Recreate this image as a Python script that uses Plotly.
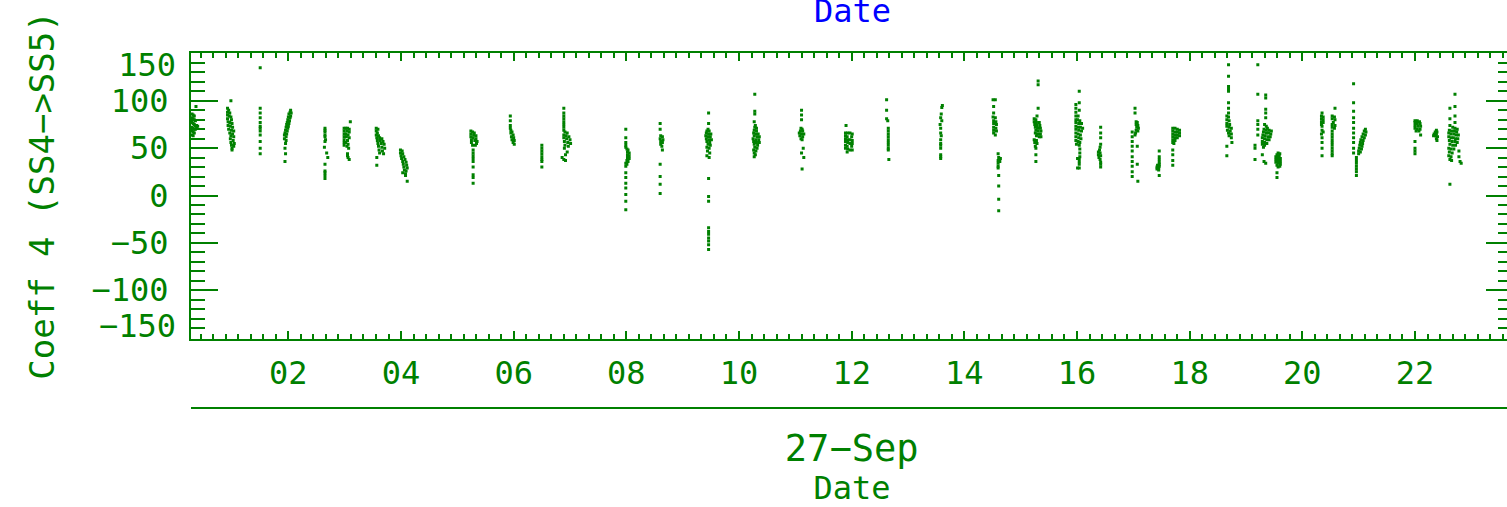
import plotly.graph_objects as go

# ---------------- data (hours of 27-Sep, Coeff 4 value) ----------------
p01_t = [0.36, 0.29, 0.31, 0.33, 0.29, 0.31, 0.33, 0.35, 0.29, 0.31, 0.33, 0.35, 0.37, 0.39, 0.29, 0.31, 0.33, 0.35, 0.37, 0.29, 0.31, 0.33, 0.29, 0.31]
p01_v = [94, 86, 85, 84, 82, 81, 80, 79, 77, 76, 75, 74, 74, 73, 72, 71, 70, 70, 71, 68, 67, 66, 64, 63]
p02_t = [0.98, 0.92, 0.94, 0.92, 0.96, 0.92, 0.95, 0.98, 0.92, 0.99, 0.93, 0.96, 1.00, 0.93, 0.97, 1.01, 0.94, 0.99, 1.03, 0.96, 1.01, 0.98, 1.03, 0.97, 1.02, 0.98, 1.04, 0.99, 1.03, 1.00, 1.00]
p02_v = [100, 92, 90, 88, 87, 85, 84, 83, 81, 80, 78, 77, 76, 74, 73, 72, 70, 69, 68, 66, 65, 63, 62, 60, 58, 56, 55, 53, 52, 50, 48]
p03_t = [1.50, 1.50, 1.50, 1.50, 1.50, 1.50, 1.50, 1.50, 1.50, 1.50, 1.50, 1.50]
p03_v = [135, 92, 87, 82, 77, 73, 71, 68, 64, 57, 50, 44]
p04_t = [2.04, 2.03, 2.05, 2.01, 2.04, 2.00, 2.03, 1.99, 2.02, 1.98, 2.01, 1.97, 2.00, 1.96, 1.99, 1.95, 1.98, 1.94, 1.97, 1.93, 1.96, 1.93, 1.96, 1.95, 1.94, 1.95, 1.94]
p04_v = [90, 88, 87, 86, 84, 83, 82, 80, 79, 77, 76, 75, 73, 72, 71, 69, 68, 66, 65, 64, 62, 60, 58, 55, 50, 44, 36]
p05_t = [2.65, 2.65, 2.65, 2.65, 2.65, 2.66, 2.65, 2.64, 2.68, 2.70, 2.65, 2.65, 2.65, 2.65, 2.65]
p05_v = [71, 69, 67, 64, 62, 59, 57, 51, 45, 40, 33, 26, 24, 21, 18]
p06_t = [3.10, 2.99, 3.02, 3.05, 3.08, 2.99, 3.04, 3.08, 2.99, 3.02, 3.06, 2.99, 3.03, 3.08, 2.99, 3.05, 2.99, 3.02, 3.06, 2.99, 3.04, 3.07, 3.05, 3.05, 3.06, 3.08]
p06_v = [78, 71, 71, 71, 70, 68, 68, 67, 65, 65, 64, 62, 62, 61, 59, 58, 56, 56, 54, 53, 52, 50, 44, 42, 40, 38]
p07_t = [3.56, 3.59, 3.56, 3.58, 3.56, 3.60, 3.57, 3.62, 3.66, 3.58, 3.63, 3.68, 3.59, 3.65, 3.70, 3.60, 3.66, 3.71, 3.61, 3.67, 3.62, 3.69, 3.57, 3.57]
p07_v = [71, 70, 68, 66, 64, 63, 61, 61, 60, 58, 58, 57, 55, 55, 54, 52, 51, 50, 48, 47, 45, 44, 40, 32]
p08_t = [3.99, 4.02, 3.99, 4.03, 4.00, 4.05, 4.01, 4.07, 4.03, 4.09, 4.04, 4.10, 4.05, 4.11, 4.06, 4.09, 4.03, 4.08, 4.08, 4.11]
p08_v = [48, 47, 45, 44, 42, 41, 39, 38, 36, 35, 33, 32, 30, 29, 27, 26, 24, 23, 21, 15]
p09_t = [5.24, 5.27, 5.30, 5.24, 5.29, 5.33, 5.24, 5.28, 5.33, 5.25, 5.31, 5.35, 5.25, 5.34, 5.27, 5.32, 5.28, 5.28, 5.28, 5.28, 5.28, 5.28, 5.28, 5.28, 5.28]
p09_v = [68, 67, 66, 65, 64, 63, 62, 61, 60, 59, 58, 57, 56, 55, 53, 53, 48, 45, 42, 39, 36, 30, 22, 19, 13]
p10_t = [5.94, 5.94, 5.94, 5.94, 5.95, 5.97, 5.95, 5.99, 5.96, 6.00, 5.97, 6.01, 5.99, 6.01]
p10_v = [84, 79, 74, 71, 69, 67, 66, 64, 62, 61, 59, 58, 56, 54]
p11_t = [6.50, 6.50, 6.50, 6.50, 6.50, 6.50, 6.50, 6.50]
p11_v = [53, 50, 47, 44, 41, 38, 36, 30]
p12_t = [6.89, 6.89, 6.89, 6.89, 6.89, 6.89, 6.89, 6.89, 6.91, 6.95, 6.89, 6.93, 6.98, 6.89, 6.94, 7.00, 6.90, 6.96, 7.01, 6.91, 6.97, 6.90, 6.95, 6.92, 6.86, 6.89, 6.92]
p12_v = [92, 87, 84, 81, 78, 75, 72, 69, 67, 66, 64, 63, 62, 61, 60, 59, 57, 56, 55, 53, 52, 50, 46, 43, 40, 38, 37]
p13_t = [7.99, 7.99, 7.99, 7.99, 7.99, 8.01, 8.03, 8.02, 8.05, 8.02, 8.05, 8.02, 8.05, 8.01, 8.03, 7.99, 8.01, 7.99, 7.99, 7.99, 7.99, 7.99, 7.99, 7.99, 7.99]
p13_v = [70, 61, 56, 53, 51, 49, 48, 46, 45, 43, 42, 40, 39, 37, 36, 34, 33, 31, 24, 19, 13, 8, 1, -6, -15]
p14_t = [8.60, 8.60, 8.61, 8.64, 8.60, 8.65, 8.61, 8.64, 8.61, 8.63, 8.64, 8.60, 8.60, 8.60, 8.60]
p14_v = [76, 70, 63, 62, 60, 59, 57, 56, 54, 52, 48, 33, 20, 12, 2]
p15_t = [9.46, 9.46, 9.45, 9.43, 9.47, 9.42, 9.46, 9.50, 9.41, 9.45, 9.49, 9.42, 9.47, 9.51, 9.43, 9.48, 9.45, 9.49, 9.43, 9.47, 9.44, 9.48, 9.43, 9.47, 9.46, 9.46, 9.46, 9.46, 9.46, 9.46, 9.46, 9.46, 9.46, 9.46]
p15_v = [87, 76, 70, 68, 68, 66, 65, 65, 63, 62, 62, 60, 59, 59, 57, 56, 54, 53, 51, 50, 47, 45, 42, 40, 18, -1, -6, -34, -38, -41, -45, -48, -52, -57]
p16_t = [10.28, 10.28, 10.28, 10.27, 10.29, 10.28, 10.31, 10.27, 10.31, 10.26, 10.30, 10.34, 10.27, 10.32, 10.36, 10.25, 10.30, 10.35, 10.26, 10.31, 10.36, 10.27, 10.33, 10.28, 10.32, 10.26, 10.30, 10.27, 10.29, 10.27]
p16_v = [107, 89, 86, 78, 74, 72, 71, 69, 68, 66, 65, 65, 63, 62, 62, 60, 59, 59, 57, 56, 56, 54, 53, 51, 50, 48, 47, 45, 43, 41]
p17_t = [11.11, 11.11, 11.11, 11.10, 11.12, 11.09, 11.13, 11.07, 11.11, 11.15, 11.08, 11.13, 11.10, 11.12, 11.14, 11.11, 11.15, 11.12]
p17_v = [90, 85, 80, 71, 70, 68, 68, 66, 65, 65, 63, 62, 60, 59, 50, 45, 40, 28]
p18_t = [11.90, 11.89, 11.93, 11.97, 12.01, 11.89, 11.92, 12.00, 11.89, 11.93, 11.97, 12.01, 11.89, 11.93, 11.97, 12.01, 11.89, 11.92, 12.00, 11.89, 11.93, 11.97, 12.01, 11.92]
p18_v = [74, 66, 66, 66, 65, 63, 62, 62, 60, 59, 59, 58, 57, 56, 55, 55, 53, 52, 52, 50, 49, 48, 48, 46]
p19_t = [12.62, 12.62, 12.62, 12.64, 12.65, 12.65, 12.65, 12.65, 12.65, 12.65, 12.65, 12.65, 12.65, 12.66]
p19_v = [101, 90, 81, 79, 71, 68, 65, 62, 59, 56, 53, 50, 48, 38]
p20_t = [13.61, 13.60, 13.59, 13.58, 13.60, 13.57, 13.58, 13.58, 13.59, 13.58, 13.58, 13.58, 13.58, 13.58, 13.58, 13.58]
p20_v = [95, 93, 86, 82, 79, 75, 71, 66, 63, 59, 55, 53, 50, 43, 41, 39]
p21_t = [14.51, 14.55, 14.52, 14.52, 14.51, 14.55, 14.52, 14.56, 14.52, 14.57, 14.52, 14.56, 14.52, 14.57, 14.52, 14.55]
p21_v = [101, 101, 94, 87, 83, 82, 79, 78, 76, 75, 72, 71, 69, 68, 66, 64]
p22_t = [14.60, 14.61, 14.64, 14.60, 14.63, 14.60, 14.60, 14.60, 14.61, 14.61, 14.61, 14.61]
p22_v = [44, 40, 39, 37, 36, 34, 31, 29, 21, 10, -4, -16]
p23_t = [15.31, 15.31, 15.31, 15.29, 15.24, 15.27, 15.24, 15.28, 15.33, 15.25, 15.29, 15.34, 15.26, 15.30, 15.35, 15.27, 15.31, 15.36, 15.26, 15.30, 15.35, 15.28, 15.33, 15.36, 15.24, 15.28, 15.25, 15.29, 15.26, 15.27, 15.27, 15.27]
p23_v = [121, 117, 92, 84, 81, 80, 78, 77, 77, 75, 74, 74, 72, 71, 71, 69, 68, 68, 66, 65, 65, 63, 62, 62, 59, 58, 56, 55, 52, 50, 43, 36]
p24_t = [16.04, 16.04, 16.04, 15.98, 15.98, 15.98, 15.98, 16.02, 15.98, 16.01, 16.05, 15.98, 16.03, 16.08, 15.98, 16.02, 16.06, 16.10, 15.98, 16.03, 16.08, 15.98, 16.02, 16.06, 15.98, 16.03, 16.07, 15.98, 16.02, 16.05, 15.99, 16.04, 16.05, 16.05, 16.05, 16.01, 16.04, 16.04, 16.04, 16.01, 16.04]
p24_v = [110, 98, 90, 96, 92, 88, 84, 84, 80, 80, 79, 77, 76, 76, 73, 72, 72, 71, 70, 69, 68, 66, 65, 64, 62, 61, 60, 58, 57, 56, 54, 53, 49, 45, 41, 39, 39, 36, 33, 29, 29]
p25_t = [16.42, 16.42, 16.42, 16.42, 16.41, 16.40, 16.38, 16.41, 16.38, 16.42, 16.39, 16.41, 16.42, 16.42, 16.42]
p25_v = [72, 66, 61, 54, 51, 48, 46, 45, 43, 42, 40, 38, 35, 33, 30]
p26_t = [17.03, 17.03, 17.05, 17.07, 17.05, 17.08, 17.06, 17.09, 17.05, 17.08, 17.04, 17.03, 16.98, 16.98, 16.98, 16.98, 16.98, 16.98, 16.98, 16.98, 16.98, 16.98, 17.07, 17.07, 17.08]
p26_v = [92, 87, 78, 77, 75, 74, 72, 71, 69, 68, 66, 64, 67, 62, 57, 52, 47, 41, 36, 31, 25, 20, 52, 33, 15]
p27_t = [17.46, 17.46, 17.46, 17.46, 17.46, 17.43, 17.46, 17.42, 17.45, 17.42, 17.45, 17.46]
p27_v = [47, 41, 38, 35, 33, 32, 31, 30, 29, 28, 27, 21]
p28_t = [17.70, 17.74, 17.78, 17.82, 17.70, 17.74, 17.78, 17.82, 17.70, 17.74, 17.78, 17.82, 17.70, 17.74, 17.78, 17.70, 17.74, 17.70, 17.72, 17.70, 17.70, 17.70, 17.70]
p28_v = [71, 71, 70, 69, 68, 67, 67, 66, 65, 64, 64, 63, 62, 61, 61, 59, 58, 56, 55, 48, 43, 37, 32]
p29_t = [18.69, 18.69, 18.69, 18.69, 18.69, 18.69, 18.69, 18.69, 18.66, 18.69, 18.66, 18.70, 18.66, 18.71, 18.66, 18.70, 18.74, 18.67, 18.72, 18.69, 18.74, 18.70, 18.74, 18.75, 18.66, 18.66]
p29_v = [138, 126, 115, 112, 110, 98, 92, 87, 84, 83, 80, 79, 76, 75, 73, 72, 71, 69, 68, 66, 65, 63, 61, 56, 52, 42]
p30_t = [19.21, 19.21, 19.35, 19.35, 19.35, 19.35, 19.35, 19.21, 19.21, 19.21, 19.21, 19.33, 19.36, 19.38, 19.32, 19.36, 19.41, 19.45, 19.31, 19.36, 19.40, 19.44, 19.30, 19.34, 19.39, 19.43, 19.29, 19.33, 19.37, 19.41, 19.29, 19.33, 19.37, 19.29, 19.33, 19.31, 19.16, 19.16, 19.29, 19.32, 19.35, 19.16]
p30_v = [138, 107, 106, 103, 91, 87, 82, 79, 75, 70, 64, 75, 73, 71, 70, 69, 69, 68, 67, 66, 66, 65, 64, 63, 62, 62, 61, 60, 59, 59, 57, 56, 55, 54, 53, 51, 53, 50, 43, 36, 34, 38]
p31_t = [19.57, 19.60, 19.55, 19.59, 19.53, 19.57, 19.61, 19.53, 19.57, 19.61, 19.53, 19.57, 19.61, 19.55, 19.60, 19.57, 19.55, 19.55]
p31_v = [45, 44, 43, 42, 41, 40, 39, 38, 37, 36, 35, 34, 33, 32, 31, 30, 24, 19]
p32_t = [20.35, 20.34, 20.37, 20.34, 20.37, 20.34, 20.37, 20.34, 20.35, 20.35, 20.37, 20.34, 20.35, 20.35, 20.35, 20.35]
p32_v = [87, 84, 83, 81, 80, 78, 77, 75, 73, 69, 67, 65, 61, 56, 50, 42]
p33_t = [20.58, 20.53, 20.57, 20.53, 20.58, 20.55, 20.53, 20.58, 20.53, 20.57, 20.53, 20.53, 20.53, 20.53, 20.53, 20.53, 20.53, 20.53, 20.53, 20.53]
p33_v = [92, 84, 83, 81, 80, 77, 75, 74, 72, 71, 68, 65, 62, 59, 56, 53, 50, 47, 44, 42]
p34_t = [20.91, 20.91, 20.91, 20.91, 20.91, 20.91, 20.91, 20.91, 20.91, 20.91, 20.91, 20.96, 20.96, 20.96, 20.96, 20.96, 20.96, 20.96, 21.12, 21.10, 21.13, 21.08, 21.12, 21.06, 21.10, 21.04, 21.08, 21.03, 21.07, 21.02, 21.06, 21.01, 21.05, 21.00, 21.03, 21.00]
p34_v = [118, 98, 89, 82, 77, 71, 66, 61, 56, 50, 45, 40, 37, 34, 31, 28, 25, 21, 70, 68, 67, 65, 64, 62, 61, 59, 58, 56, 55, 53, 52, 50, 49, 47, 46, 44]
p35_t = [22.00, 22.04, 22.08, 22.00, 22.04, 22.09, 22.00, 22.05, 22.10, 22.00, 22.04, 22.09, 22.02, 22.07, 22.10, 22.00, 22.00, 22.00, 22.00]
p35_v = [79, 79, 78, 77, 76, 76, 74, 73, 73, 71, 70, 70, 68, 68, 64, 57, 50, 47, 44]
p36_t = [22.38, 22.36, 22.39, 22.34, 22.38, 22.33, 22.37, 22.40, 22.38, 22.39]
p36_v = [69, 67, 67, 65, 65, 63, 63, 62, 60, 58]
p37_t = [22.71, 22.62, 22.71, 22.62, 22.71, 22.62, 22.71, 22.67, 22.71, 22.75, 22.61, 22.65, 22.70, 22.74, 22.60, 22.64, 22.69, 22.73, 22.77, 22.60, 22.64, 22.68, 22.72, 22.76, 22.61, 22.66, 22.71, 22.75, 22.62, 22.67, 22.72, 22.60, 22.64, 22.69, 22.61, 22.66, 22.60, 22.64, 22.62, 22.65, 22.78, 22.78, 22.80, 22.82, 22.62]
p37_v = [107, 92, 94, 81, 84, 74, 77, 72, 71, 70, 69, 68, 68, 67, 66, 65, 65, 64, 64, 62, 61, 61, 60, 60, 58, 57, 57, 56, 54, 53, 53, 50, 49, 49, 46, 45, 42, 41, 38, 37, 47, 41, 36, 34, 12]

passes_t = [p01_t, p02_t, p03_t, p04_t, p05_t, p06_t, p07_t, p08_t, p09_t, p10_t, p11_t, p12_t, p13_t,
            p14_t, p15_t, p16_t, p17_t, p18_t, p19_t, p20_t, p21_t, p22_t, p23_t, p24_t, p25_t, p26_t,
            p27_t, p28_t, p29_t, p30_t, p31_t, p32_t, p33_t, p34_t, p35_t, p36_t, p37_t]
passes_v = [p01_v, p02_v, p03_v, p04_v, p05_v, p06_v, p07_v, p08_v, p09_v, p10_v, p11_v, p12_v, p13_v,
            p14_v, p15_v, p16_v, p17_v, p18_v, p19_v, p20_v, p21_v, p22_v, p23_v, p24_v, p25_v, p26_v,
            p27_v, p28_v, p29_v, p30_v, p31_v, p32_v, p33_v, p34_v, p35_v, p36_v, p37_v]

hour_ticks = [2, 4, 6, 8, 10, 12, 14, 16, 18, 20, 22]
hour_labels = ["02", "04", "06", "08", "10", "12", "14", "16", "18", "20", "22"]
y_ticks = [-100, -50, 0, 50, 100]
y_labels = ["\u2212100", "\u221250", "0", "50", "100"]
day_label = "27\u2212Sep"
day_pos = [12.0]
x_range = [0.2716, 23.74]
y_range = [-151, 151]

# ---------------- style ----------------
GREEN = "#008000"
BLUE = "#0000ff"
FONT = "DejaVu Sans Mono"
W, H = 1520, 507          # page is 1507 wide; right frame edge (x=1513) falls just outside
PL, PR, PT, PB = 191, 1513, 52.5, 338.5

t_all, v_all = [], []
for t, v in zip(passes_t, passes_v):
    t_all += t
    v_all += v

fig = go.Figure()
fig.add_trace(go.Scatter(x=t_all, y=v_all, mode="markers",
                         marker=dict(symbol="square", size=3, color=GREEN, line=dict(width=0)),
                         showlegend=False, hoverinfo="x+y"))
# empty traces to instantiate the overlay axes
for xa, ya in [("x", "y2"), ("x", "y3"), ("x", "y4"), ("x2", "y")]:
    fig.add_trace(go.Scatter(x=[None], y=[None], xaxis=xa, yaxis=ya, mode="markers",
                             showlegend=False, hoverinfo="skip"))

xdom = [PL / W, PR / W]
ydom = [1 - PB / H, 1 - PT / H]
tf = dict(family=FONT, size=32, color=GREEN)

fig.update_layout(
    width=W, height=H, margin=dict(l=0, r=0, t=0, b=0, autoexpand=False),
    paper_bgcolor="white", plot_bgcolor="white",
    font=dict(family=FONT, size=32, color=GREEN),
    xaxis=dict(domain=xdom, range=x_range, anchor="y", tickmode="array", automargin=False,
               tickvals=hour_ticks, ticktext=hour_labels, ticks="inside", ticklen=8,
               tickwidth=2, tickcolor=GREEN, showline=True, linewidth=2, linecolor=GREEN,
               mirror="ticks", showgrid=False, zeroline=False, tickfont=tf,
               ticklabelstandoff=5,
               minor=dict(tickmode="linear", tick0=0, dtick=2 / 9, ticks="inside",
                          ticklen=5, tickwidth=2, tickcolor=GREEN, showgrid=False)),
    yaxis=dict(domain=ydom, range=y_range, anchor="x", tickmode="array", automargin=False,
               tickvals=y_ticks, ticktext=y_labels, ticks="inside", ticklen=27,
               tickwidth=2, tickcolor=GREEN, showline=True, linewidth=2, linecolor=GREEN,
               mirror=False, showgrid=False, zeroline=False, tickfont=tf,
               ticklabelstandoff=14,
               minor=dict(tickmode="linear", tick0=0, dtick=10, ticks="inside",
                          ticklen=14, tickwidth=2, tickcolor=GREEN, showgrid=False),
               title=dict(text="Coeff 4 (SS4\u2212>SS5)", font=dict(family=FONT, size=34, color=GREEN),
                          standoff=27)),
    yaxis2=dict(overlaying="y", anchor="x", side="left", range=y_range, tickmode="array",
                automargin=False,
                tickvals=[150], ticktext=["150"], ticks="", showline=False, showgrid=False,
                zeroline=False, tickfont=tf, ticklabelshift=11, ticklabelstandoff=14),
    yaxis3=dict(overlaying="y", anchor="x", side="left", range=y_range, tickmode="array",
                automargin=False,
                tickvals=[-150], ticktext=["\u2212150"], ticks="", showline=False,
                showgrid=False, zeroline=False, tickfont=tf, ticklabelshift=-12,
                ticklabelstandoff=14),
    yaxis4=dict(overlaying="y", anchor="x", side="right", range=y_range, tickmode="array",
                automargin=False,
                tickvals=[-150, -100, -50, 0, 50, 100, 150], ticks="inside", ticklen=27,
                tickwidth=2, tickcolor=GREEN, showticklabels=False, showline=True,
                linewidth=2, linecolor=GREEN,
                showgrid=False, zeroline=False,
                minor=dict(tickmode="linear", tick0=0, dtick=10, ticks="inside",
                           ticklen=15, tickwidth=2, tickcolor=GREEN, showgrid=False)),
    xaxis2=dict(overlaying="x", anchor="free", position=1 - 408 / H, side="bottom",
                automargin=False,
                range=x_range, tickmode="array", tickvals=day_pos, ticktext=[day_label],
                ticks="", showline=True, linewidth=2, linecolor=GREEN, showgrid=False,
                zeroline=False, tickfont=dict(family=FONT, size=37, color=GREEN),
                ticklabelstandoff=8,
                title=dict(text="Date", font=dict(family=FONT, size=32, color=GREEN), standoff=10)),
    annotations=[dict(text="Date", x=852 / W, y=1 - 32 / H, xref="paper", yref="paper",
                      xanchor="center", yanchor="bottom", showarrow=False,
                      font=dict(family=FONT, size=32, color=BLUE))],
)

fig.write_html("out.html", config={"displayModeBar": False},
               post_script="document.body.style.margin='0px';document.body.style.overflow='hidden';")
